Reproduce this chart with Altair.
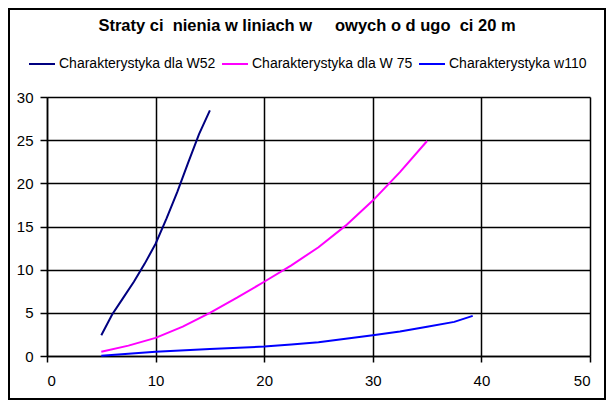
import altair as alt
import pandas as pd

# ---- data ----
series_names = ["Charakterystyka dla W52", "Charakterystyka dla W 75", "Charakterystyka w110"]
series_colors = ["#000080", "#FF00FF", "#0000FF"]

x_w52 = [5, 6, 7, 8, 9, 10, 11, 12, 13, 14, 15]
y_w52 = [2.4, 4.8, 6.7, 8.6, 10.7, 13.0, 15.9, 19.0, 22.4, 25.7, 28.45]

x_w75 = [5, 7.5, 10, 12.5, 15, 17.5, 20, 22.5, 25, 27.5, 30, 32.5, 35]
y_w75 = [0.5, 1.2, 2.1, 3.4, 5.0, 6.75, 8.6, 10.5, 12.6, 15.1, 18.0, 21.3, 24.9]

x_w110 = [5, 10, 15, 20, 22.5, 25, 27.5, 30, 32.5, 35, 37.5, 39.2]
y_w110 = [0.02, 0.5, 0.8, 1.1, 1.33, 1.6, 2.0, 2.4, 2.85, 3.38, 3.95, 4.65]

x_ticks = [0, 10, 20, 30, 40, 50]
y_ticks = [0, 5, 10, 15, 20, 25, 30]

NB = "\u00a0"
title_text = ("Straty ci" + NB * 2 + "nienia w liniach w" + NB * 5 + "owych o d"
              + NB * 1 + "ugo" + NB * 2 + "ci 20 m")

rows = []
for name, xs, ys in zip(series_names, [x_w52, x_w75, x_w110], [y_w52, y_w75, y_w110]):
    for i, (xv, yv) in enumerate(zip(xs, ys)):
        rows.append({"series": name, "x": xv, "y": yv, "order": i})
df = pd.DataFrame(rows)

W, H = 543, 259
PAD = {"left": 39, "top": 89, "right": 16, "bottom": 44}
FONT = "Liberation Sans"

lines = alt.Chart(df).mark_line(strokeWidth=2, clip=False).encode(
    x=alt.X("x:Q", scale=alt.Scale(domain=[0, 50], nice=False, zero=False),
            axis=alt.Axis(values=x_ticks, title=None, grid=True, tickSize=6,
                          labelPadding=11, format="d")),
    y=alt.Y("y:Q", scale=alt.Scale(domain=[0, 30], nice=False),
            axis=alt.Axis(values=y_ticks, title=None, grid=True, tickSize=7,
                          labelPadding=7, format="d")),
    color=alt.Color("series:N",
                    scale=alt.Scale(domain=series_names, range=series_colors),
                    sort=series_names,
                    legend=alt.Legend(orient="none", legendX=-19, legendY=-47,
                                      direction="horizontal", title=None,
                                      symbolType="stroke", symbolSize=676,
                                      symbolStrokeWidth=2, labelFontSize=14,
                                      labelFont=FONT, labelColor="black",
                                      labelLimit=0,
                                      labelOffset=3, columnPadding=2, padding=0)),
    order="order:Q",
)

frame_df = pd.DataFrame({"k": [0]})
frame = alt.Chart(frame_df).mark_rect(filled=False, stroke="black", strokeWidth=2).encode(
    x=alt.value(-PAD["left"] + 1), x2=alt.value(W + PAD["right"] - 1),
    y=alt.value(-PAD["top"] + 1), y2=alt.value(H + PAD["bottom"] - 1),
)

chart = alt.layer(lines, frame).properties(
    width=W, height=H, autosize="none", padding=PAD,
    title=alt.TitleParams(text=title_text, font=FONT, fontSize=16.5, fontWeight="bold",
                          color="black", anchor="middle", frame="bounds", offset=-26),
).configure(background="white").configure_view(stroke=None).configure_axis(
    domainColor="black", domainWidth=1.5, tickColor="black", tickWidth=1.5,
    gridColor="black", gridOpacity=1, gridWidth=1.5,
    labelColor="black", labelFont=FONT, labelFontSize=15,
)

chart.save("out.html", embed_options={"renderer": "svg", "actions": False})
